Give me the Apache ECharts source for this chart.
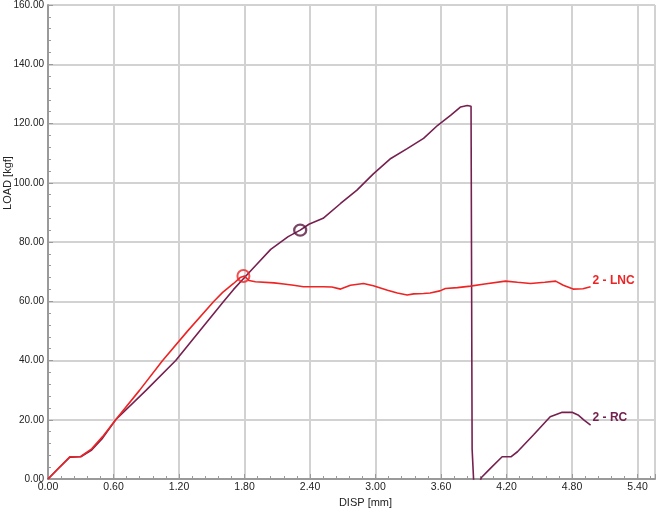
<!DOCTYPE html>
<html>
<head>
<meta charset="utf-8">
<script src="https://cdn.jsdelivr.net/npm/echarts@6/dist/echarts.min.js"></script>
<style>
html,body{margin:0;padding:0;background:#fff;}
#c{width:663px;height:511px;}
</style>
</head>
<body>
<div id="c"></div>
<script>
// ---- data ----
const dispLNC = [0, 0.1, 0.2, 0.3, 0.4, 0.5, 0.62, 0.84, 1.05, 1.28, 1.52, 1.6, 1.7, 1.76, 1.8, 1.84, 1.9, 2.07, 2.16, 2.25, 2.34, 2.52, 2.6, 2.68, 2.77, 2.89, 2.98, 3.11, 3.2, 3.29, 3.35, 3.44, 3.5, 3.59, 3.64, 3.75, 3.87, 4.0, 4.19, 4.3, 4.42, 4.55, 4.65, 4.72, 4.81, 4.9, 4.97];
const loadLNC = [0, 3.8, 7.5, 7.6, 10.2, 14.3, 20, 30, 40, 50, 60, 63, 66, 68, 68.5, 67, 66.6, 66.2, 65.8, 65.4, 64.9, 64.9, 64.8, 64.1, 65.4, 66.0, 65.2, 63.7, 62.8, 62.1, 62.5, 62.6, 62.8, 63.5, 64.3, 64.6, 65.1, 65.8, 66.8, 66.4, 66.0, 66.4, 66.8, 65.4, 64.1, 64.2, 64.9];

const dispRC = [0, 0.1, 0.2, 0.3, 0.4, 0.5, 0.62, 0.9, 1.17, 1.4, 1.61, 1.7, 1.8, 1.9, 2.04, 2.2, 2.31, 2.39, 2.52, 2.68, 2.83, 2.98, 3.14, 3.29, 3.44, 3.57, 3.69, 3.78, 3.84, 3.875, 3.885, 3.9, 3.95, 3.97, 4.05, 4.16, 4.24, 4.30, 4.45, 4.60, 4.71, 4.80, 4.86, 4.91, 4.97];
const loadRC = [0, 3.7, 7.4, 7.5, 9.8, 13.8, 20, 30, 40, 50.5, 60, 64, 68, 72, 77.5, 81.8, 84, 86, 88, 93, 97.5, 103, 108.2, 111.5, 115, 119.4, 122.8, 125.6, 126.1, 125.8, 10, -1.5, -1.5, 0.5, 3.5, 7.5, 7.5, 9.2, 15, 21, 22.5, 22.5, 21.5, 19.9, 18.2];

const markLNC = [1.79, 68.5];
const markRC = [2.31, 84];

const xTicks = {min: 0, max: 5.56, interval: 0.6};
const yTicks = {min: 0, max: 160, interval: 20};
const xName = 'DISP [mm]';
const yName = 'LOAD [kgf]';
const nameLNC = '2 - LNC';
const nameRC = '2 - RC';

// ---- chart ----
const zip = (a, b) => a.map((v, i) => [v, b[i]]);
const FONT = '"Liberation Sans Narrow", "Liberation Sans", Arial, sans-serif';
const RED = '#ee2424';
const MAROON = '#762050';

const chart = echarts.init(document.getElementById('c'), null, {renderer: 'canvas'});
chart.setOption({
  animation: false,
  backgroundColor: '#ffffff',
  grid: {left: 48, right: 8, top: 5, bottom: 32, show: true, borderColor: '#cfcfcf', borderWidth: 1, containLabel: false, outerBoundsMode: 'none'},
  graphic: [{
    type: 'text', x: 8, y: 183, rotation: Math.PI / 2,
    style: {text: yName, fontFamily: FONT, fontSize: 11, fill: '#222', align: 'center', verticalAlign: 'middle'}
  }],
  xAxis: {
    type: 'value', min: xTicks.min, max: xTicks.max, interval: xTicks.interval,
    name: xName, nameLocation: 'middle', nameGap: 15,
    nameTextStyle: {fontFamily: FONT, fontSize: 11, color: '#222', padding: [0, 0, 0, 28]},
    axisLine: {show: true, lineStyle: {color: '#9a9a9a', width: 2}},
    axisTick: {show: true, inside: true, length: 5, lineStyle: {color: '#9a9a9a'}},
    minorTick: {show: true, splitNumber: 5, length: 3, lineStyle: {color: '#9a9a9a'}},
    axisLabel: {fontFamily: FONT, fontSize: 10.5, color: '#222', margin: 3, formatter: v => v.toFixed(2), showMaxLabel: false},
    splitLine: {show: true, lineStyle: {color: '#d2d2d2', width: 2}}
  },
  yAxis: {
    type: 'value', min: yTicks.min, max: yTicks.max, interval: yTicks.interval,
    axisLine: {show: true, lineStyle: {color: '#9a9a9a', width: 2}},
    axisTick: {show: true, inside: true, length: 5, lineStyle: {color: '#9a9a9a'}},
    minorTick: {show: true, splitNumber: 5, length: 3, lineStyle: {color: '#9a9a9a'}},
    axisLabel: {fontFamily: FONT, fontSize: 10, color: '#222', margin: 4, formatter: v => v.toFixed(2)},
    splitLine: {show: true, lineStyle: {color: '#d2d2d2', width: 2}}
  },
  series: [
    {
      type: 'line', name: nameLNC, data: zip(dispLNC, loadLNC), showSymbol: false, symbol: 'none',
      lineStyle: {color: RED, width: 1.6}, z: 3,
      endLabel: {show: true, formatter: nameLNC, color: RED, fontFamily: FONT, fontSize: 12, fontWeight: 'bold', distance: 2, offset: [0, -6]}
    },
    {
      type: 'line', name: nameRC, data: zip(dispRC, loadRC), showSymbol: false, symbol: 'none',
      lineStyle: {color: MAROON, width: 1.6}, z: 2,
      endLabel: {show: true, formatter: nameRC, color: MAROON, fontFamily: FONT, fontSize: 12, fontWeight: 'bold', distance: 2, offset: [0, -7]}
    },
    {
      type: 'scatter', data: [markLNC], symbol: 'circle', symbolSize: 12, z: 5,
      itemStyle: {color: 'rgba(0,0,0,0)', borderColor: RED, borderWidth: 2}
    },
    {
      type: 'scatter', data: [markRC], symbol: 'circle', symbolSize: [12, 11], z: 5,
      itemStyle: {color: 'rgba(0,0,0,0)', borderColor: '#5a1840', borderWidth: 2.2}
    }
  ]
});
</script>
</body>
</html>
